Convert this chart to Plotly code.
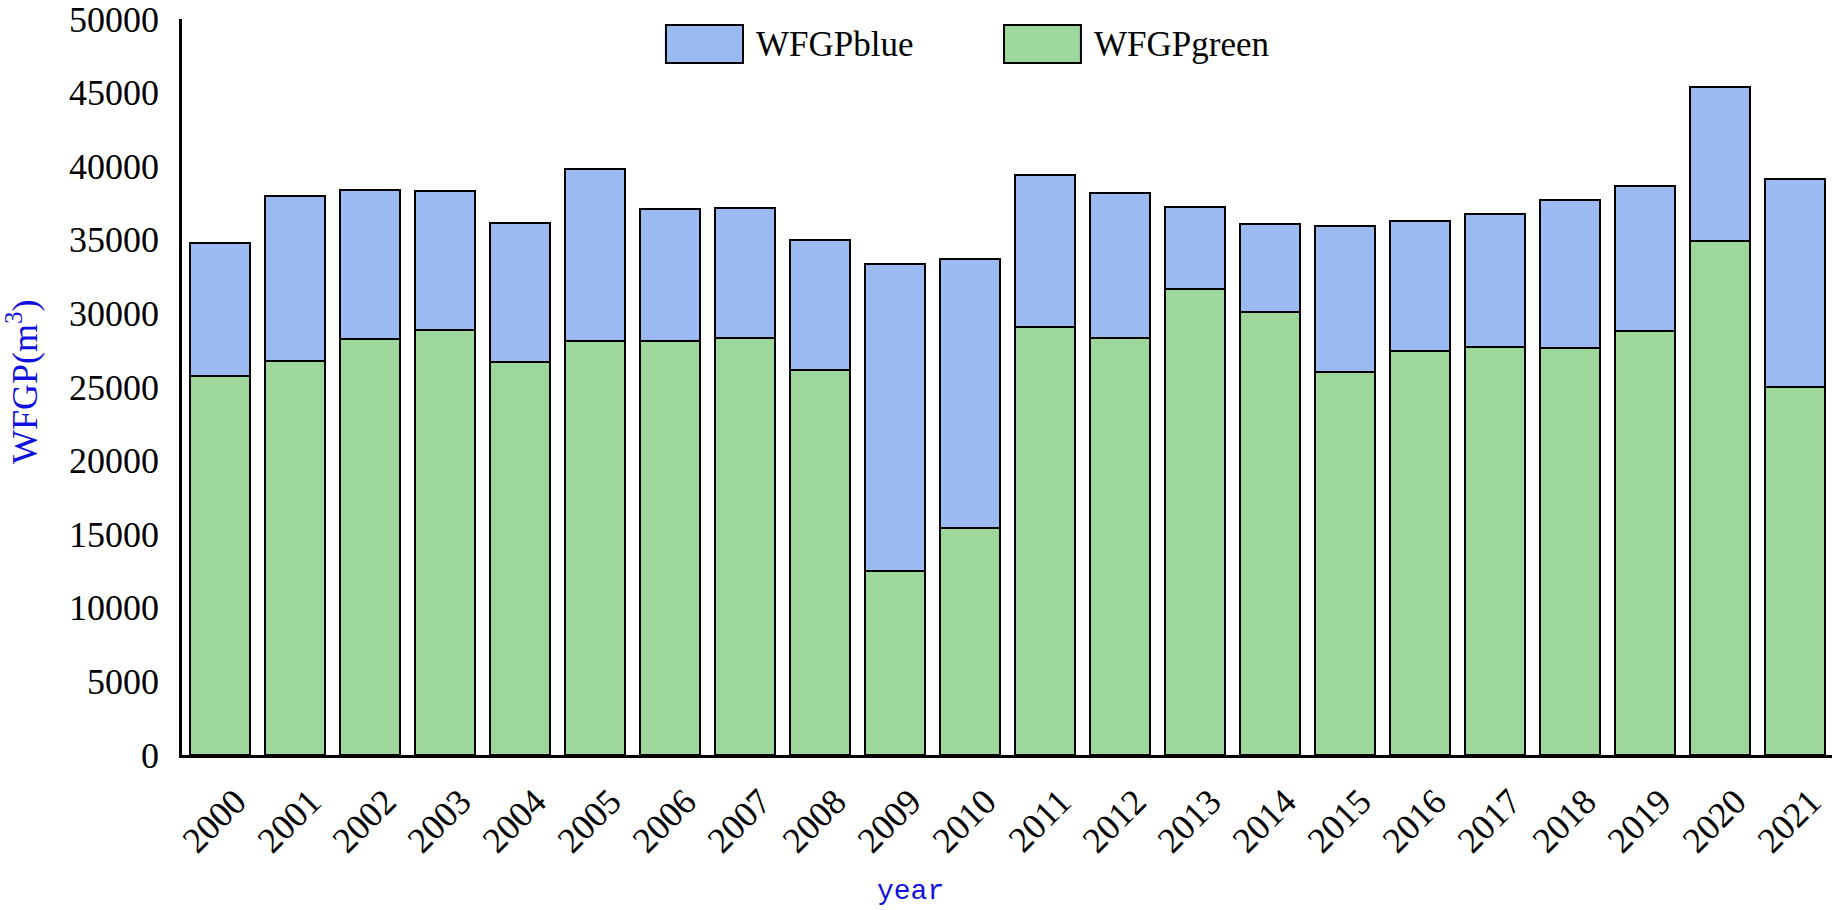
import plotly.graph_objects as go

years = [str(y) for y in range(2000, 2022)]
wfgp_green = [25770, 26770, 28280, 28870, 26700, 28100, 28150, 28310, 26180, 12520, 15420,
              29080, 28350, 31680, 30120, 26000, 27470, 27740, 27630, 28780, 34940, 25020]
wfgp_blue = [9030, 11230, 10120, 9430, 9440, 11690, 8940, 8870, 8810, 20810, 18250,
             10300, 9850, 5520, 5950, 9940, 8810, 8990, 10050, 9900, 10420, 14130]
y_ticks = [0, 5000, 10000, 15000, 20000, 25000, 30000, 35000, 40000, 45000, 50000]
y_ticktext = [str(v) for v in y_ticks]

BLUE = "#9cbaf2"
GREEN = "#9dd79b"
SERIF = "Liberation Serif"
TITLE_BLUE = "#1010e0"

fig = go.Figure()
fig.add_trace(go.Bar(x=years, y=wfgp_green, name="WFGPgreen",
                     marker=dict(color=GREEN, line=dict(color="black", width=2)),
                     showlegend=False))
fig.add_trace(go.Bar(x=years, y=wfgp_blue, name="WFGPblue",
                     marker=dict(color=BLUE, line=dict(color="black", width=2)),
                     showlegend=False))

# manual legend (large swatches as in the reference)
legend_items = [("WFGPblue", BLUE, 0.2933, 0.3400, 0.3467),
                ("WFGPgreen", GREEN, 0.4982, 0.5448, 0.5515)]
for label, col, x0, x1, xt in legend_items:
    fig.add_shape(type="rect", xref="paper", yref="paper", x0=x0, x1=x1, y0=0.9402, y1=0.9918,
                  fillcolor=col, line=dict(color="black", width=2))
    fig.add_annotation(text=label, xref="paper", yref="paper", x=xt, y=0.966,
                       xanchor="left", yanchor="middle", showarrow=False,
                       font=dict(family=SERIF, size=35, color="black"))

# axis titles
fig.add_annotation(text="WFGP(m<sup>3</sup>)", xref="paper", yref="paper", x=-0.097, y=0.508,
                   textangle=-90, showarrow=False, xanchor="center", yanchor="middle",
                   font=dict(family=SERIF, size=36, color=TITLE_BLUE))
fig.add_annotation(text="year", xref="paper", yref="paper", x=0.4418, y=-0.1848,
                   showarrow=False, xanchor="center", yanchor="middle",
                   font=dict(family="Liberation Mono", size=28, color=TITLE_BLUE))

fig.update_layout(
    barmode="stack",
    bargap=0.2,
    width=1838, height=910,
    margin=dict(l=182, r=6, t=19, b=155, autoexpand=False),
    paper_bgcolor="white", plot_bgcolor="white",
    font=dict(family=SERIF, size=35, color="black"),
    xaxis=dict(type="category", showline=True, linecolor="black", linewidth=3,
               tickangle=-45, ticks="", showgrid=False, ticklabelstandoff=8,
               ticklabelshift=16, ticklabeloverflow="allow",
               tickfont=dict(family=SERIF, size=36, color="black"), automargin=False),
    yaxis=dict(range=[0, 50000], tickvals=y_ticks, ticktext=y_ticktext, showline=True,
               linecolor="black", linewidth=2.5, ticks="", showgrid=False, zeroline=False,
               ticklabelstandoff=13, ticklabeloverflow="allow",
               tickfont=dict(family=SERIF, size=36, color="black"),
               automargin=False),
)

fig.write_html("out.html", config={"displayModeBar": False},
               post_script="document.body.style.margin='0';document.body.style.overflow='hidden';")
